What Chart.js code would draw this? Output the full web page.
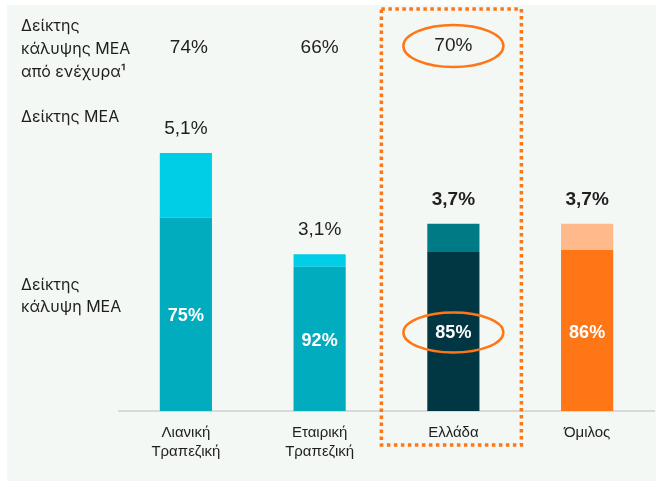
<!DOCTYPE html>
<html>
<head>
<meta charset="utf-8">
<script src="https://cdn.jsdelivr.net/npm/chart.js@4.4.1/dist/chart.umd.min.js"></script>
<style>
  html, body { margin: 0; padding: 0; background: #ffffff; }
  #wrap { width: 656px; height: 481px; position: relative; }
</style>
</head>
<body>
<div id="wrap"><canvas id="c" width="656" height="481"></canvas></div>
<script>
// ---- Data ----
const categories = [["Λιανική", "Τραπεζική"], ["Εταιρική", "Τραπεζική"], ["Ελλάδα"], ["Όμιλος"]];
const npeRatio = [5.1, 3.1, 3.7, 3.7];           // Δείκτης ΜΕΑ (%)
const npeRatioLabels = ["5,1%", "3,1%", "3,7%", "3,7%"];
const coverage = [75, 92, 85, 86];                // Δείκτης κάλυψης ΜΕΑ (%)
const collateralCoverage = [74, 66, 70, null];    // Δείκτης κάλυψης ΜΕΑ από ενέχυρα (%)

// covered / uncovered parts of each bar
const coveredPart = npeRatio.map((v, i) => v * coverage[i] / 100);
const uncoveredPart = npeRatio.map((v, i) => v - coveredPart[i]);

const bottomColors = ["#00acbd", "#00acbd", "#003742", "#ff7617"];
const topColors = ["#00cde6", "#00cde6", "#007a84", "#ffb98a"];
const boldTop = [false, false, true, true];

const ORANGE = "#ff7617";
const TXT = "#1f1f1f";
const CHART_FONT = "'Liberation Sans', Arial, sans-serif";
const SIDE_FONT = "Inter, 'Noto Sans', sans-serif";

const bgPlugin = {
  id: "bg",
  beforeDraw(chart) {
    const ctx = chart.ctx;
    ctx.save();
    ctx.fillStyle = "#ffffff";
    ctx.fillRect(0, 0, chart.width, chart.height);
    ctx.fillStyle = "#f4f8f5";
    ctx.fillRect(7, 5, chart.width - 7, chart.height - 5);
    ctx.restore();
  }
};

const annotPlugin = {
  id: "annot",
  afterDatasetsDraw(chart) {
    const ctx = chart.ctx;
    const x = chart.scales.x, y = chart.scales.y;
    ctx.save();

    // side labels
    ctx.fillStyle = TXT;
    ctx.font = "16px " + SIDE_FONT;
    ctx.textAlign = "left";
    ctx.textBaseline = "middle";
    ctx.fillText("Δείκτης", 21, 26);
    ctx.fillText("κάλυψης ΜΕΑ", 21, 49);
    ctx.fillText("από ενέχυρα¹", 21, 72);
    ctx.fillText("Δείκτης ΜΕΑ", 21, 117);
    ctx.fillText("Δείκτης", 21, 285);
    ctx.fillText("κάλυψη ΜΕΑ", 21, 307);

    // collateral coverage row
    ctx.textAlign = "center";
    ctx.font = "19px " + CHART_FONT;
    collateralCoverage.forEach((v, i) => {
      if (v === null) return;
      const cx = x.getPixelForValue(i);
      ctx.fillText(v + "%", cx + (i === 0 ? 3 : 0), i === 2 ? 46 : 48);
    });

    // npe ratio labels above bars
    npeRatio.forEach((v, i) => {
      const cx = x.getPixelForValue(i);
      const top = y.getPixelForValue(v);
      ctx.font = (boldTop[i] ? "bold " : "") + "19px " + CHART_FONT;
      ctx.fillStyle = TXT;
      ctx.fillText(npeRatioLabels[i], cx, top - 24);
    });

    // coverage labels inside bars
    ctx.fillStyle = "#ffffff";
    ctx.font = "bold 18px " + CHART_FONT;
    coverage.forEach((v, i) => {
      const cx = x.getPixelForValue(i);
      const yTop = y.getPixelForValue(coveredPart[i]);
      const yBot = y.getPixelForValue(0);
      ctx.fillText(v + "%", cx, (yTop + yBot) / 2 + 2);
    });

    // highlights for Ελλάδα
    const gx = x.getPixelForValue(2);
    ctx.strokeStyle = ORANGE;
    ctx.lineWidth = 2.5;
    ctx.beginPath();
    ctx.ellipse(gx, 46, 50, 21, 0, 0, Math.PI * 2);
    ctx.stroke();
    const gTop = y.getPixelForValue(coveredPart[2]);
    const gBot = y.getPixelForValue(0);
    ctx.beginPath();
    ctx.ellipse(gx, (gTop + gBot) / 2 + 1, 50, 20, 0, 0, Math.PI * 2);
    ctx.stroke();

    // dotted frame
    ctx.lineWidth = 3.5;
    ctx.setLineDash([3.5, 3.5]);
    ctx.strokeRect(gx - 72, 9, 140, 436);
    ctx.setLineDash([]);
    ctx.restore();
  }
};

new Chart(document.getElementById("c"), {
  type: "bar",
  data: {
    labels: categories,
    datasets: [
      { data: coveredPart, backgroundColor: bottomColors, borderWidth: 0 },
      { data: uncoveredPart, backgroundColor: topColors, borderWidth: 0 }
    ]
  },
  options: {
    responsive: false,
    animation: false,
    devicePixelRatio: 1,
    layout: { padding: { left: 119, right: 2, top: 15, bottom: 0 } },
    plugins: { legend: { display: false }, tooltip: { enabled: false } },
    datasets: { bar: { categoryPercentage: 1, barPercentage: 0.39 } },
    scales: {
      x: {
        stacked: true,
        grid: { display: false, drawTicks: false },
        border: { display: true, color: "#d9d9d9", width: 2 },
        ticks: {
          color: TXT,
          font: { family: CHART_FONT, size: 15, lineHeight: 1.27 },
          padding: 12,
          maxRotation: 0
        },
        afterFit(s) { s.height = 70; }
      },
      y: {
        stacked: true,
        display: false,
        min: 0,
        max: 7.83
      }
    }
  },
  plugins: [bgPlugin, annotPlugin]
});
</script>
</body>
</html>
